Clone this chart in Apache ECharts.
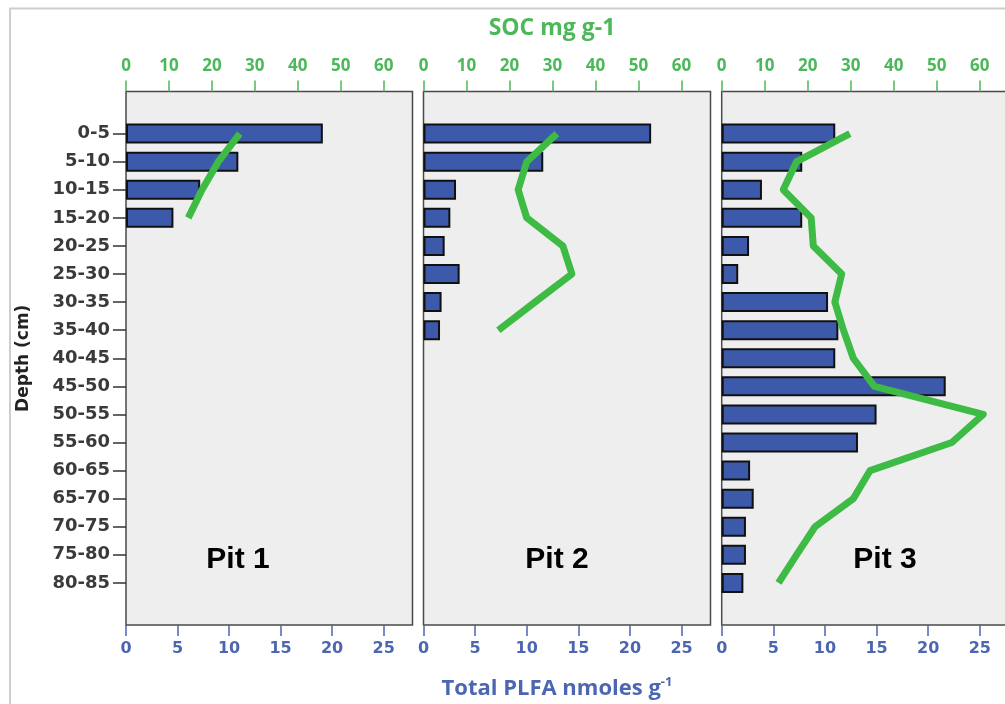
<!DOCTYPE html>
<html><head><meta charset="utf-8">
<script src="https://cdn.jsdelivr.net/npm/echarts@6/dist/echarts.min.js"></script>
<style>html,body{margin:0;padding:0;background:#fff}#c{width:1005px;height:704px}</style>
</head><body><div id="c"></div><script>
// ---- data ----
const categories = ['0-5','5-10','10-15','15-20','20-25','25-30','30-35','35-40','40-45','45-50','50-55','55-60','60-65','65-70','70-75','75-80','80-85'];
const pitNames = ['Pit 1','Pit 2','Pit 3'];
const pit1Plfa = [19.1, 10.9, 7.2, 4.6];
const pit1Soc  = [26.5, 21.5, 17.7, 14.5];
const pit2Plfa = [22.05, 11.6, 3.15, 2.6, 2.05, 3.5, 1.75, 1.6];
const pit2Soc  = [31.0, 24.0, 22.0, 24.0, 32.4, 34.5, 25.9, 17.4];
const pit3Plfa = [11.0, 7.8, 3.9, 7.8, 2.65, 1.6, 10.3, 11.3, 11.0, 21.7, 15.0, 13.2, 2.75, 3.1, 2.35, 2.35, 2.1];
const pit3Soc  = [29.8, 17.4, 14.3, 20.8, 21.3, 27.9, 26.3, 28.3, 30.6, 35.5, 60.8, 53.5, 34.5, 30.6, 21.7, 17.4, 13.2];
const plfaTicks = [0, 5, 10, 15, 20, 25];
const socTicks = [0, 10, 20, 30, 40, 50, 60];
const plfaMax = 27.8;
const socMax = 66.72;
const socTitle = 'SOC mg g-1';
const plfaTitleMain = 'Total PLFA nmoles g';
const plfaTitleSup = '-1';
const depthTitle = 'Depth (cm)';

// ---- build ----
const plfaAll = [pit1Plfa, pit2Plfa, pit3Plfa];
const socAll = [pit1Soc, pit2Soc, pit3Soc];
const yCats = [' '].concat(categories, ['  ']);
function pad(arr){
  const out = ['-'];
  for (let i = 0; i < categories.length; i++) out.push(i < arr.length ? arr[i] : '-');
  out.push('-');
  return out;
}
const panels = [{left:126, width:286.5},{left:423.5, width:287},{left:721.7, width:287}];
const TOP = 91.5, HEIGHT = 533.5;
const GREEN = '#4cb85a', BLUE = '#4d66b2', LINEGREEN = '#3dbb45';

const grid = [], xAxis = [], yAxis = [], series = [];
panels.forEach((p, i) => {
  grid.push({left:p.left, top:TOP, width:p.width, height:HEIGHT, show:true,
    backgroundColor:'#eeeeee', borderColor:'#4a4a4a', borderWidth:1.5, outerBoundsMode:'none'});
  xAxis.push({gridIndex:i, type:'value', position:'bottom', min:0, max:plfaMax,
    axisLine:{show:false}, splitLine:{show:false},
    axisTick:{show:true, length:11, customValues:plfaTicks, lineStyle:{color:BLUE, width:1.5}},
    axisLabel:{customValues:plfaTicks, color:BLUE, margin:16, fontFamily:'DejaVu Sans', fontWeight:'bold', fontSize:16}});
  xAxis.push({gridIndex:i, type:'value', position:'top', min:0, max:socMax,
    axisLine:{show:false}, splitLine:{show:false},
    axisTick:{show:true, length:11, customValues:socTicks, lineStyle:{color:GREEN, width:1.5}},
    axisLabel:{customValues:socTicks, color:GREEN, margin:17, fontFamily:'Open Sans', fontWeight:'bold', fontSize:17}});
  yAxis.push({gridIndex:i, type:'category', inverse:true, data:yCats,
    axisLine:{show:false},
    axisTick:{show:i===0, length:13, alignWithLabel:true, interval:(idx, val) => String(val).trim() !== '',
      lineStyle:{color:'#333', width:1.5}},
    axisLabel:{show:i===0, interval:0, margin:16, color:'#3a3a3a', fontFamily:'DejaVu Sans', fontWeight:'bold', fontSize:18},
    name: i===0 ? depthTitle : '', nameLocation:'middle', nameRotate:90, nameGap:94,
    nameTextStyle:{color:'#222', fontFamily:'DejaVu Sans', fontWeight:'bold', fontSize:17}});
  series.push({type:'bar', xAxisIndex:2*i, yAxisIndex:i, data:pad(plfaAll[i]), barWidth:20,
    itemStyle:{color:'#3c59aa', borderColor:'#111', borderWidth:2}, z:2, silent:true});
  series.push({type:'line', xAxisIndex:2*i+1, yAxisIndex:i, data:pad(socAll[i]), symbol:'none',
    lineStyle:{color:LINEGREEN, width:7, cap:'butt', join:'round'}, z:3, silent:true, animation:false});
});

const graphic = [
  {type:'rect', shape:{x:10, y:8.5, width:1100, height:800}, style:{fill:'none', stroke:'#cdcdcd', lineWidth:2}, silent:true},
  {type:'text', x:552, y:28, style:{text:socTitle, fill:GREEN, font:'bold 23px "Open Sans"', align:'center', verticalAlign:'middle'}},
  {type:'text', x:557, y:689, style:{text:'{a|' + plfaTitleMain + '}{b|' + plfaTitleSup + '}', align:'center', verticalAlign:'middle',
    rich:{a:{fill:BLUE, color:BLUE, fontFamily:'Open Sans', fontWeight:'bold', fontSize:22},
          b:{fill:BLUE, color:BLUE, fontFamily:'Open Sans', fontWeight:'bold', fontSize:13, padding:[0,0,13,0]}}}}
];
pitNames.forEach((t, i) => {
  graphic.push({type:'text', x:[238, 557, 885][i], y:560,
    style:{text:t, fill:'#000', font:'bold 30px "Liberation Sans"', align:'center', verticalAlign:'middle'}});
});

const chart = echarts.init(document.getElementById('c'));
chart.setOption({animation:false, backgroundColor:'#ffffff', grid, xAxis, yAxis, series, graphic});
</script></body></html>
